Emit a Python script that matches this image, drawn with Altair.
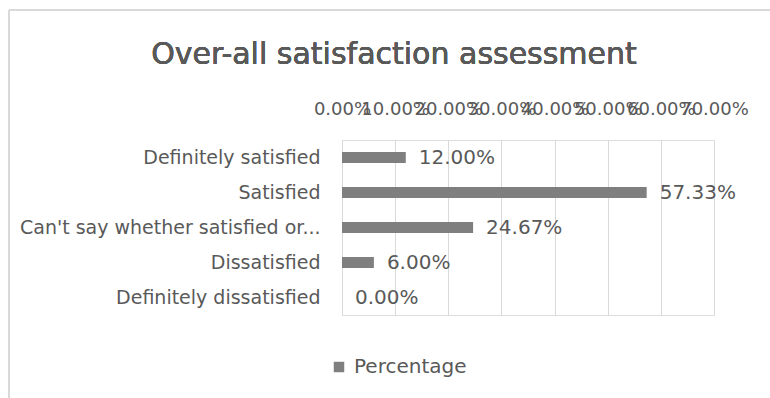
import altair as alt
import pandas as pd

categories = [
    "Definitely satisfied",
    "Satisfied",
    "Can't say whether satisfied or...",
    "Dissatisfied",
    "Definitely dissatisfied",
]
percentages = [12.00, 57.33, 24.67, 6.00, 0.00]
x_ticks = [0, 10, 20, 30, 40, 50, 60, 70]
series_name = "Percentage"
title_text = "Over-all satisfaction assessment"

df = pd.DataFrame({
    "category": categories,
    "value": [p / 100 for p in percentages],
    "label": [f"{p:.2f}%" for p in percentages],
    "series": series_name,
})

FONT = "DejaVu Sans"
TEXT = "#595959"
BAR = "#7f7f7f"
GRID = "#d9d9d9"

x_enc = alt.X(
    "value:Q",
    scale=alt.Scale(domain=[0, 0.7], nice=False),
    axis=alt.Axis(
        orient="top", format=".2%", values=[t / 100 for t in x_ticks],
        domain=False, ticks=False, grid=True, gridColor=GRID,
        labelColor=TEXT, labelFont=FONT, labelFontSize=18, labelPadding=22,
        labelOverlap=False, labelFlush=False, title=None,
    ),
)
y_enc = alt.Y(
    "category:N", sort=categories,
    scale=alt.Scale(paddingInner=0.0, paddingOuter=0.0),
    axis=alt.Axis(
        domain=False, ticks=False, labelColor=TEXT, labelFont=FONT,
        labelFontSize=19, labelPadding=22, labelLimit=400, title=None,
    ),
)

bars = alt.Chart(df).mark_bar(size=11).encode(
    x=x_enc,
    y=y_enc,
    color=alt.Color(
        "series:N",
        scale=alt.Scale(range=[BAR]),
        legend=alt.Legend(
            orient="none", legendX=-13, legendY=217, title=None,
            symbolType="square", symbolSize=110, labelFont=FONT,
            labelFontSize=20, labelColor=TEXT, symbolStrokeWidth=0,
            labelOffset=5,
        ),
    ),
)

labels = alt.Chart(df).mark_text(
    align="left", baseline="middle", dx=13, font=FONT, fontSize=20, color=TEXT,
).encode(x="value:Q", y=alt.Y("category:N", sort=categories), text="label:N")

title = alt.Chart(df).mark_text(
    font=FONT, fontSize=30, color=TEXT, align="center", baseline="middle",
).encode(x=alt.value(52), y=alt.value(-85), text=alt.value(title_text))

frame_left = alt.Chart(df).mark_rule(color=GRID, strokeWidth=1.5).encode(
    x=alt.value(-333), y=alt.value(-130), y2=alt.value(260)
)
frame_top = alt.Chart(df).mark_rule(color=GRID, strokeWidth=1.5).encode(
    x=alt.value(-333), x2=alt.value(430), y=alt.value(-130)
)

chart = alt.layer(frame_left, frame_top, bars, labels, title).properties(
    width=372, height=175,
    padding={"left": 342, "top": 140, "right": 56, "bottom": 83},
    autosize=alt.AutoSizeParams(type="none"),
).configure_view(stroke=None).configure(background="white")

chart.save("out.html", embed_options={"renderer": "svg", "actions": False})
